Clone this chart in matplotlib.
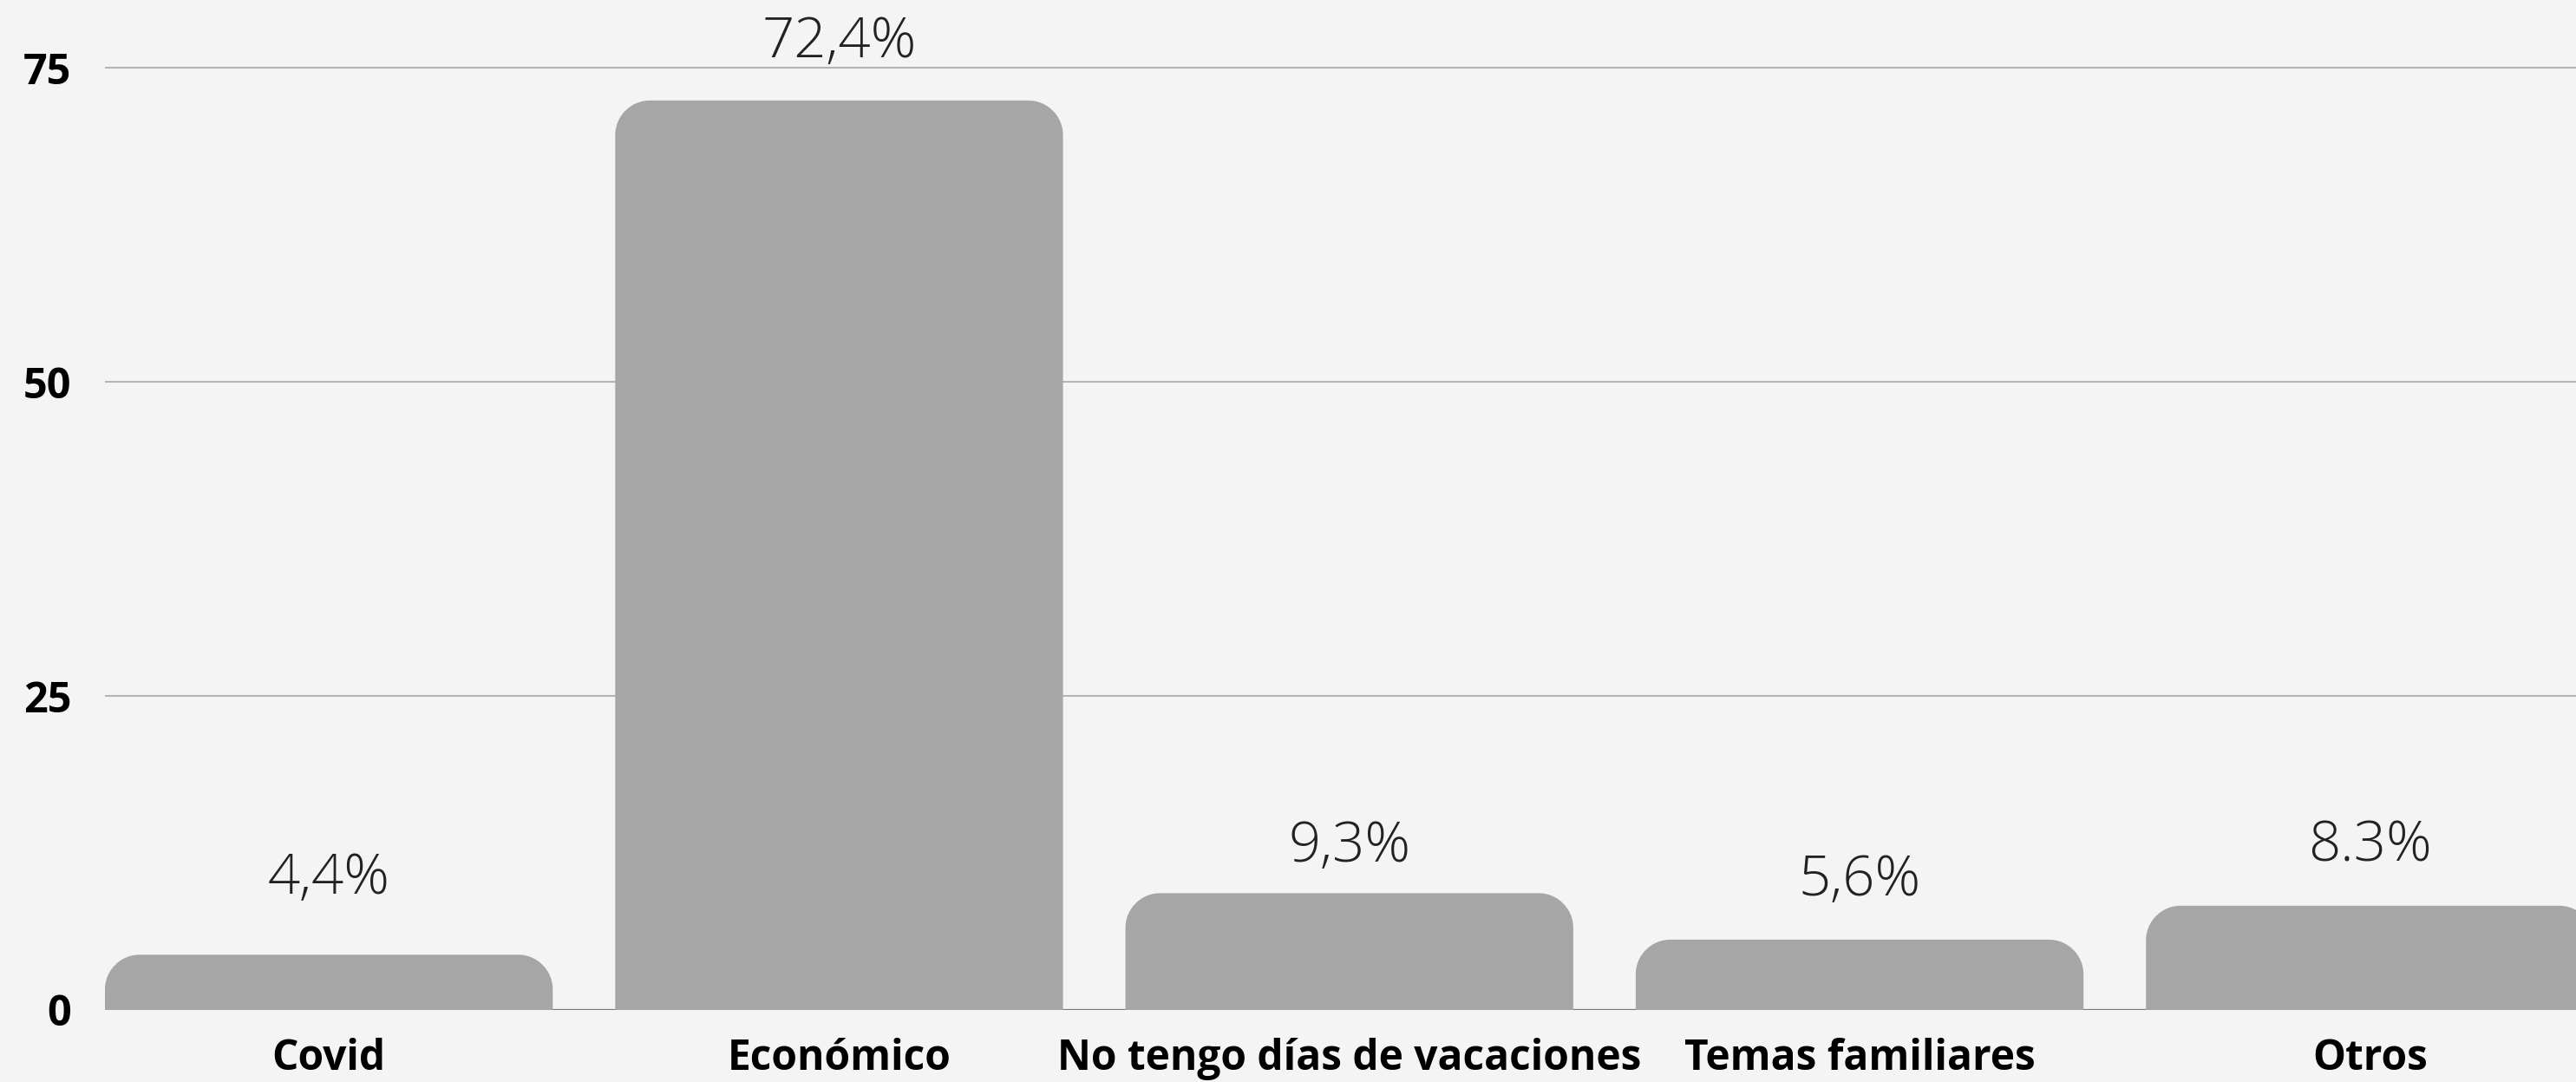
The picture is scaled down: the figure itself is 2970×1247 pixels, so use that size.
import matplotlib
matplotlib.use("Agg")
import matplotlib.pyplot as plt
from matplotlib.path import Path
from matplotlib.patches import PathPatch

# Data
categories = ["Covid", "Económico", "No tengo días de vacaciones", "Temas familiares", "Otros"]
values = [4.4, 72.4, 9.3, 5.6, 8.3]
value_labels = ["4,4%", "72,4%", "9,3%", "5,6%", "8.3%"]
y_ticks = [0, 25, 50, 75]

# Styling / layout
W, H, DPI = 2970, 1247, 100
BG = "#f4f4f4"
BAR_COLOR = "#a6a6a6"
GRID_COLOR = "#b4b4b4"
BASE_COLOR = "#777777"
TEXT_COLOR = "#222222"
CORNER_PX = 40
BAR_WIDTH = 0.8776
# the reference places the value labels unevenly above the bars (pixels)
LABEL_LIFT_PX = [70, 50, 36, 51, 51]

plt.rcParams["font.family"] = ["Open Sans", "DejaVu Sans"]


def rounded_top_path(x0, y0, w, h, rx, ry):
    """Rectangle with only the two top corners rounded (quarter ellipses)."""
    k = 0.5523
    ry = min(ry, h)
    x1, y1 = x0 + w, y0 + h
    verts = [
        (x0, y0),
        (x0, y1 - ry),
        (x0, y1 - ry + k * ry), (x0 + rx - k * rx, y1), (x0 + rx, y1),
        (x1 - rx, y1),
        (x1 - rx + k * rx, y1), (x1, y1 - ry + k * ry), (x1, y1 - ry),
        (x1, y0),
        (x0, y0),
    ]
    codes = [Path.MOVETO, Path.LINETO,
             Path.CURVE4, Path.CURVE4, Path.CURVE4,
             Path.LINETO,
             Path.CURVE4, Path.CURVE4, Path.CURVE4,
             Path.LINETO, Path.CLOSEPOLY]
    return Path(verts, codes)


fig = plt.figure(figsize=(W / DPI, H / DPI), dpi=DPI, facecolor=BG)
ax = fig.add_axes([121 / W, 83 / H, (W - 121) / W, 1164 / H])
ax.set_facecolor(BG)

x = list(range(len(categories)))
bars = ax.bar(x, values, width=BAR_WIDTH, color=BAR_COLOR, zorder=2)

half = BAR_WIDTH / 2
ax.set_xlim(-half, -half + (W - 121) / 588.3)
ax.set_ylim(0, 80.4)

# convert the corner radius from pixels to data units
x_px = ax.transData.transform([(0, 0), (1, 1)])
px_per_x = x_px[1][0] - x_px[0][0]
px_per_y = x_px[1][1] - x_px[0][1]
rx = CORNER_PX / px_per_x
ry = CORNER_PX / px_per_y

for rect in bars:
    bx, by = rect.get_x(), rect.get_y()
    bw, bh = rect.get_width(), rect.get_height()
    rect.set_visible(False)
    patch = PathPatch(rounded_top_path(bx, by, bw, bh, rx, ry),
                      facecolor=BAR_COLOR, edgecolor="none", zorder=2)
    ax.add_patch(patch)

# value labels
for xi, v, lab, lift in zip(x, values, value_labels, LABEL_LIFT_PX):
    ax.annotate(lab, (xi, v), xytext=(0, lift), textcoords="offset pixels",
                ha="center", va="baseline", fontsize=47, fontweight="light",
                color=TEXT_COLOR, zorder=3)

# grid and baseline
for t in y_ticks[1:]:
    ax.axhline(t, color=GRID_COLOR, linewidth=1.5, zorder=1)
ax.axhline(0, color=BASE_COLOR, linewidth=1.6, zorder=1)

for s in ax.spines.values():
    s.set_visible(False)

ax.set_yticks(y_ticks)
ax.set_yticklabels([str(t) for t in y_ticks], fontsize=35, fontweight="bold", color="black")
ax.set_xticks(x)
ax.set_xticklabels(categories, fontsize=34.5, fontweight="bold", color="black")
ax.tick_params(axis="y", length=0, pad=28)
ax.tick_params(axis="x", length=0, pad=23)

fig.savefig("out.png", dpi=DPI, facecolor=BG)
